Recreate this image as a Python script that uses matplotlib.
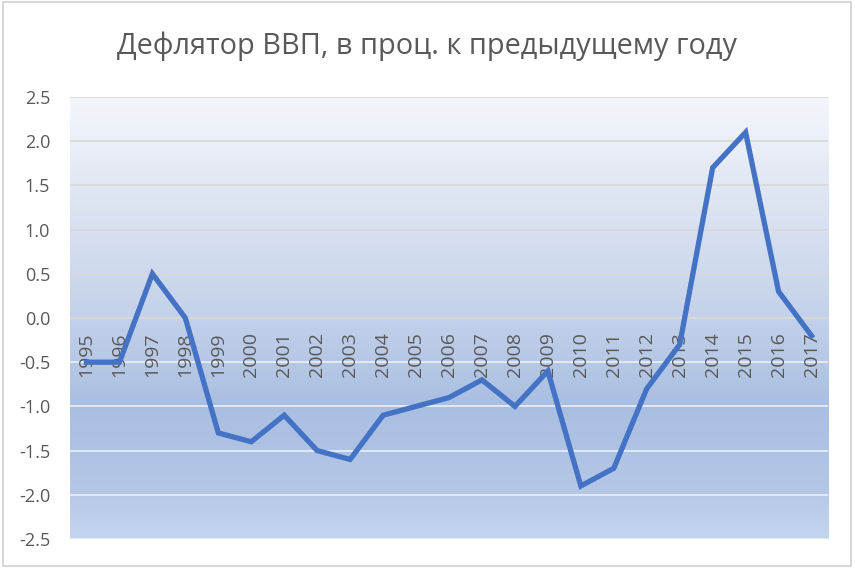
import matplotlib
matplotlib.use("Agg")
import matplotlib.pyplot as plt
import numpy as np
from matplotlib.colors import LinearSegmentedColormap
from matplotlib.patches import Rectangle

years = ["1995", "1996", "1997", "1998", "1999", "2000", "2001", "2002", "2003",
         "2004", "2005", "2006", "2007", "2008", "2009", "2010", "2011", "2012",
         "2013", "2014", "2015", "2016", "2017"]
values = [-0.5, -0.5, 0.5, 0.0, -1.3, -1.4, -1.1, -1.5, -1.6, -1.1, -1.0, -0.9,
          -0.7, -1.0, -0.6, -1.9, -1.7, -0.8, -0.3, 1.7, 2.1, 0.3, -0.2]
yticks = [-2.5, -2.0, -1.5, -1.0, -0.5, 0.0, 0.5, 1.0, 1.5, 2.0, 2.5]
title = "Дефлятор ВВП, в проц. к предыдущему году"

plt.rcParams['font.family'] = ['Open Sans', 'DejaVu Sans']

fig = plt.figure(figsize=(8.55, 5.69), dpi=100)
fig.patch.set_facecolor("white")
fig.patches.append(Rectangle((0.003, 0.006), 0.992, 0.99, transform=fig.transFigure,
                             fill=False, edgecolor="#d0d0d0", linewidth=1.2))

ax = fig.add_axes([70/855, 30/569, (828-70)/855, (539-97)/569])
x = np.arange(len(years))
ax.set_xlim(-0.5, len(years) - 0.5)
ax.set_ylim(-2.5, 2.5)

# gradient background
cmap = LinearSegmentedColormap.from_list("bg", [
    (0.0, "#c4d5ef"), (0.12, "#b3c6e6"), (0.3, "#a9bfe1"),
    (0.5, "#c3d1ea"), (0.75, "#dce4f2"), (1.0, "#f4f6fb")])
grad = np.linspace(0, 1, 256).reshape(-1, 1)
ax.imshow(grad, aspect="auto", cmap=cmap, origin="lower",
          extent=[-0.5, len(years) - 0.5, -2.5, 2.5], zorder=0)

for yv in yticks:
    ax.axhline(yv, color="#d9d9d9" if yv >= 0 else "#e8edf5", lw=1.3, zorder=1)

ax.plot(x, values, color="#4472C4", lw=3.8, zorder=4, solid_joinstyle="miter")

for xi, lab in zip(x, years):
    ax.text(xi, -0.16, lab, rotation=90, ha="center", va="top",
            fontsize=14, color="#595959", zorder=3)

ax.set_xticks([])
ax.set_yticks(yticks)
ax.set_yticklabels([f"{v:.1f}" for v in yticks], fontsize=13, color="#595959")
ax.tick_params(axis="y", length=0, pad=14.4)
for s in ax.spines.values():
    s.set_visible(False)

fig.text(427/855, 1 - 46/569, title, ha="center", va="center",
         fontsize=20.8, color="#595959")

fig.savefig("out.png", dpi=100)
